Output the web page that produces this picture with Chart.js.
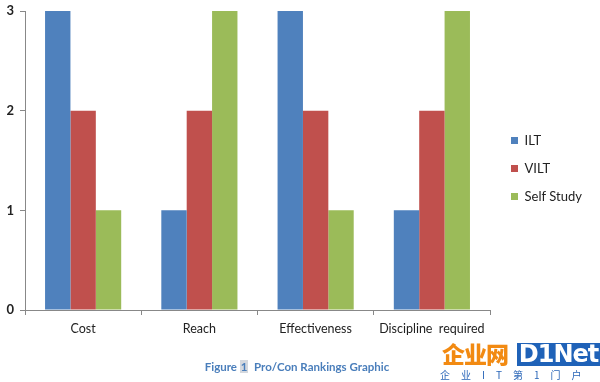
<!DOCTYPE html>
<html>
<head>
<meta charset="utf-8">
<script src="https://cdn.jsdelivr.net/npm/chart.js@4.4.0/dist/chart.umd.min.js"></script>
<style>
  html, body { margin: 0; padding: 0; background: #fff; }
  #wrap { position: relative; width: 600px; height: 382px; overflow: hidden; }
  #c { position: absolute; left: 0; top: 0; }
  #caption { position: absolute; left: 0; width: 594px; top: 360px; text-align: center;
    font-family: Lato, "Open Sans", sans-serif; font-weight: bold; font-size: 11.5px; color: #4a7ebb; }
  #caption .hl { background: #d4d8de; padding: 0 1px; }
  #wm1 { position: absolute; left: 442px; top: 339px; font-family: "Noto Sans CJK SC", sans-serif;
    font-weight: 900; font-size: 23px; color: #f28a12; letter-spacing: -1px; line-height: 28px; }
  #wm2 { position: absolute; left: 517px; top: 343px; width: 83px; height: 23px; background: #1f62b8;
    font-family: "DejaVu Sans", sans-serif; font-weight: bold; font-size: 24px; color: #fff; line-height: 23px; text-align: center; letter-spacing: -1px; }
  #wm3 { position: absolute; left: 440px; top: 369px; font-family: "Noto Sans CJK SC", sans-serif;
    font-size: 10px; color: #2a66b8; letter-spacing: 11px; line-height: 12px; }
</style>
</head>
<body>
<div id="wrap">
  <canvas id="c" width="600" height="382"></canvas>
  <div id="caption">Figure <span class="hl">1</span>&nbsp; Pro/Con Rankings Graphic</div>
  <div id="wm1">企业网</div>
  <div id="wm2">D1Net</div>
  <div id="wm3">企业IT第1门户</div>
</div>
<script>
const categories = ["Cost", "Reach", "Effectiveness", "Discipline  required"];
const seriesNames = ["ILT", "VILT", "Self Study"];
const iltValues = [3, 1, 3, 1];
const viltValues = [2, 2, 2, 2];
const selfStudyValues = [1, 3, 1, 3];
const yTicks = [0, 1, 2, 3];

const colors = ["#4f81bd", "#c0504d", "#9bbb59"];
const font = "Lato, 'Open Sans', sans-serif";

const shiftLegend = {
  id: "shiftLegend",
  afterLayout(chart) {
    const lg = chart.legend;
    if (lg) { lg.left += 6; lg.right += 6; lg.top -= 8; lg.bottom -= 8; }
  }
};

new Chart(document.getElementById("c"), {
  type: "bar",
  data: {
    labels: categories,
    datasets: [
      { label: seriesNames[0], data: iltValues, backgroundColor: colors[0] },
      { label: seriesNames[1], data: viltValues, backgroundColor: colors[1] },
      { label: seriesNames[2], data: selfStudyValues, backgroundColor: colors[2] }
    ]
  },
  plugins: [shiftLegend],
  options: {
    responsive: false,
    animation: false,
    devicePixelRatio: 1,
    layout: { padding: { top: 11, left: 4, right: 14, bottom: 40 } },
    datasets: { bar: { barPercentage: 1, categoryPercentage: 0.655 } },
    plugins: {
      legend: {
        position: "right",
        align: "center",
        labels: {
          boxWidth: 7, boxHeight: 7, padding: 15,
          color: "#222",
          font: { family: font, size: 13 }
        }
      },
      tooltip: { enabled: false }
    },
    scales: {
      x: {
        grid: { display: true, drawOnChartArea: false, drawTicks: true, tickLength: 5, color: "#888", offset: true },
        border: { display: true, color: "#888" },
        ticks: { color: "#222", font: { family: font, size: 12.5 }, padding: 6, maxRotation: 0 }
      },
      y: {
        min: 0, max: 3,
        afterBuildTicks: (s) => { s.ticks = yTicks.map(v => ({ value: v })); },
        afterFit: (s) => { s.width = 21; s.paddingTop = 0; },
        grid: { display: true, drawOnChartArea: false, drawTicks: true, tickLength: 5, color: "#888" },
        border: { display: true, color: "#888" },
        ticks: { color: "#222", font: { family: font, size: 13, weight: "bold" }, padding: 6 }
      }
    }
  }
});
</script>
</body>
</html>
